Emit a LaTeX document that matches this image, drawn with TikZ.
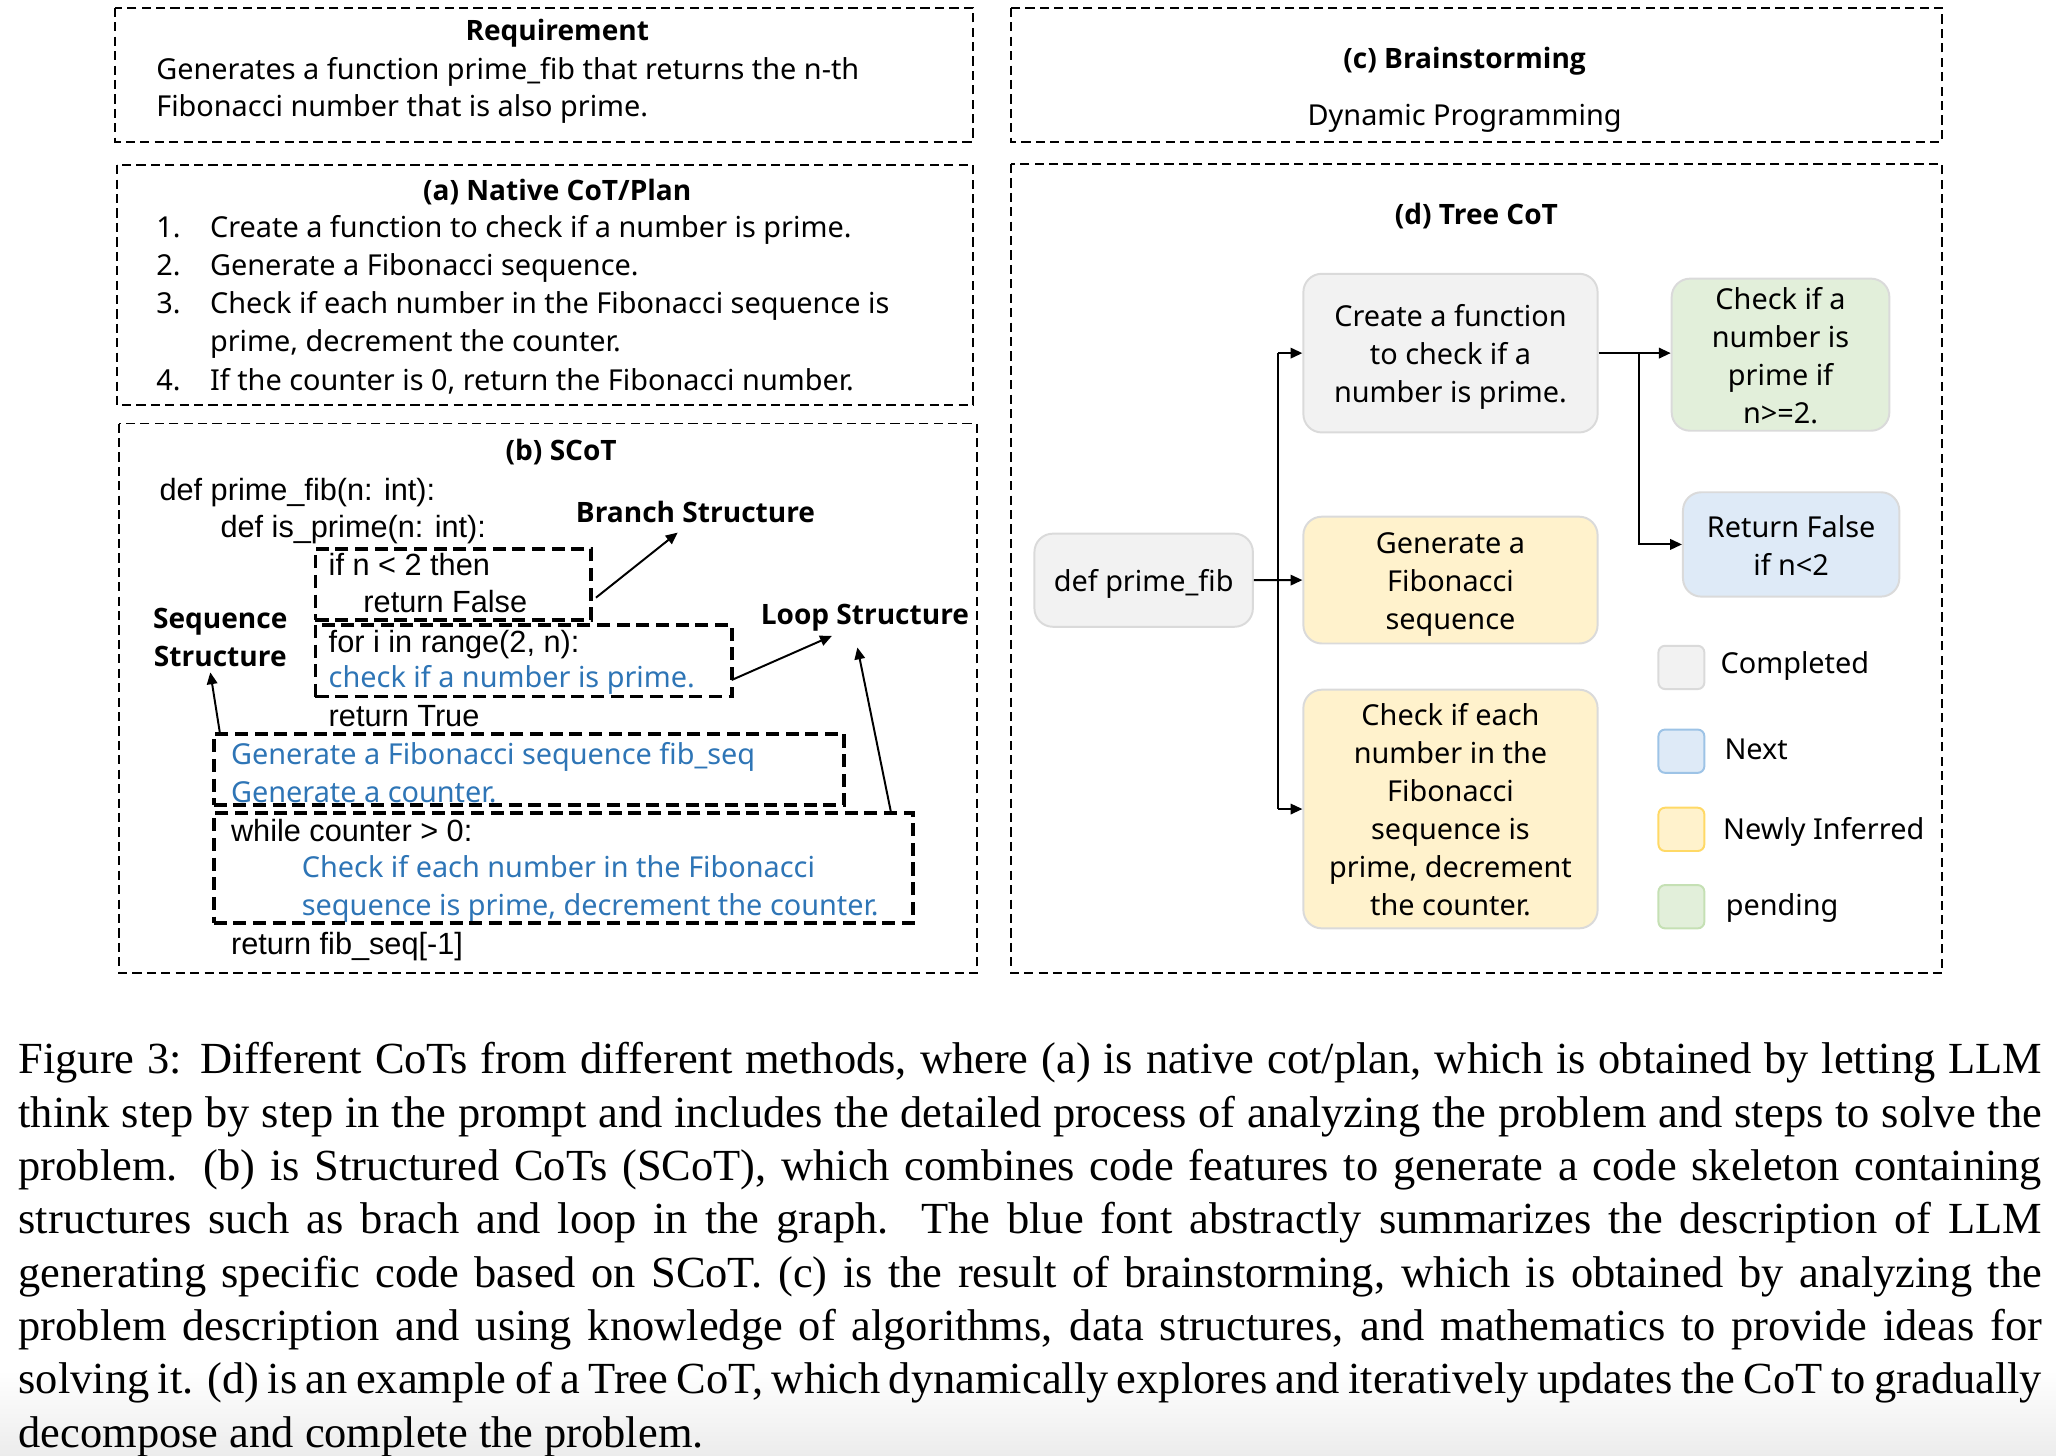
\documentclass[tikz,border=0pt]{standalone}
\usepackage{fontspec}
\setmainfont{Liberation Serif}
\newfontfamily\yhfont{Noto Sans}
\newfontfamily\yhbfont{Open Sans}
\newfontfamily\arfont{Liberation Sans}
\usetikzlibrary{arrows.meta}
\definecolor{codeblue}{RGB}{46,117,182}
\definecolor{gfill}{RGB}{242,242,242}
\definecolor{ndraw}{RGB}{218,218,218}
\definecolor{bfill}{RGB}{222,234,247}
\definecolor{yfill}{RGB}{255,242,204}
\definecolor{grfill}{RGB}{226,239,218}
\definecolor{lbdraw}{RGB}{157,195,230}
\definecolor{lydraw}{RGB}{255,217,102}
\definecolor{lgdraw}{RGB}{197,224,180}
\newcommand{\fyh}{\yhfont\fontsize{22}{29}\selectfont}
\newcommand{\fyhb}{\yhbfont\bfseries\fontsize{21.4}{29}\selectfont}
\newcommand{\fcode}{\arfont\fontsize{23.4}{29}\selectfont}
\newcommand{\fcap}{\fontsize{33.9}{40.7}\selectfont}
\newcommand{\tstrut}{\rule[-5.6pt]{0pt}{29pt}}
\begin{document}
\begin{tikzpicture}[x=1pt,y=-1pt,
  outerbox/.style={draw, line width=1.4pt, dash pattern=on 7pt off 4pt},
  tbox/.style={draw, line width=3pt, dash pattern=on 10pt off 5pt},
  txt/.style={anchor=base west, inner sep=0pt, font=\fyh},
  ttl/.style={anchor=base, inner sep=0pt, font=\fyhb},
  lbl/.style={anchor=base west, inner sep=0pt, font=\fyhb},
  code/.style={anchor=base west, inner sep=0pt, font=\fcode},
  btxt/.style={anchor=base west, inner sep=0pt, font=\fyh, text=codeblue},
  arr/.style={line width=1.5pt, -{Triangle[length=9pt,width=8pt]}},
  tnode/.style={rounded corners=14pt, line width=1.5pt, draw=ndraw, inner sep=0pt, align=center, font=\fyh},
  lsq/.style={rounded corners=5pt, line width=1.5pt, minimum width=35pt, minimum height=33pt, inner sep=0pt},
  capl/.style={anchor=base west, inner sep=0pt, font=\fcap}
]
\useasboundingbox (0,0) rectangle (1568,1110.4);
\shade[top color=white, bottom color={rgb,255:red,236;green,236;blue,236}] (0,1045) rectangle (1568,1110.4);

% ---------- Requirement ----------
\draw[outerbox] (88,6) rectangle (742,108);
\node[ttl] (reqt) at (425,31) {Requirement};
\node[txt] (req1) at (119,60.5) {Generates a function prime\_fib that returns the n-th};
\node[txt] (req2) at (119,88.5) {Fibonacci number that is also prime.};

% ---------- (a) ----------
\draw[outerbox] (89,126) rectangle (742,309);
\node[ttl] (at) at (425,153) {(a) Native CoT/Plan};
\node[txt] (an1) at (119,181.5) {1.};
\node[txt] (a1) at (160,181.5) {Create a function to check if a number is prime.};
\node[txt] (an2) at (119,210) {2.};
\node[txt] (a2) at (160,210) {Generate a Fibonacci sequence.};
\node[txt] (an3) at (119,239.2) {3.};
\node[txt] (a3) at (160,239.2) {Check if each number in the Fibonacci sequence is};
\node[txt] (a3b) at (160,268.3) {prime, decrement the counter.};
\node[txt] (an4) at (119,297.5) {4.};
\node[txt] (a4) at (160,297.5) {If the counter is 0, return the Fibonacci number.};

% ---------- (b) ----------
\draw[outerbox] (91,323) rectangle (745,742);
\node[ttl] (bt) at (428,351.5) {(b) SCoT};
\node[code] (b1) at (121.5,382) {def prime\_fib(n: int):};
\node[code] (b2) at (168,410) {def is\_prime(n: int):};
\node[code] (b3) at (250.5,439) {if n < 2 then};
\node[code] (b4) at (277,467) {return False};
\node[code] (b5) at (250.5,497.5) {for i in range(2, n):};
\node[btxt] (b6) at (250.5,524.5) {check if a number is prime.};
\node[code] (b7) at (250.5,554) {return True};
\node[btxt] (b8) at (176,583) {Generate a Fibonacci sequence fib\_seq};
\node[btxt] (b9) at (176,612.2) {Generate a counter.};
\node[code] (b10) at (176,642) {while counter > 0:};
\node[btxt] (b11) at (230,669.2) {Check if each number in the Fibonacci};
\node[btxt] (b12) at (230,698.4) {sequence is prime, decrement the counter.};
\node[code] (b13) at (176,728) {return fib\_seq[-1]};

\node[lbl] (brs) at (439,398.5) {Branch Structure};
\node[ttl] (seq1) at (168,479.5) {Sequence};
\node[ttl] (seq2) at (168,508.5) {Structure};
\node[lbl] (lps) at (580,476.5) {Loop Structure};

\node[tbox, inner sep=0pt, minimum width=210.4pt, minimum height=54.3pt] (brbox) at (345.8,445.65) {};
\node[tbox, inner sep=0pt, minimum width=317.4pt, minimum height=54.9pt] (lpbox) at (399.3,503.75) {};
\node[tbox, inner sep=0pt, minimum width=481.1pt, minimum height=54pt] (sqbox) at (403.45,587) {};
\node[tbox, inner sep=0pt, minimum width=533.7pt, minimum height=83.8pt] (whbox) at (429.75,662.1) {};

\coordinate (brs0) at (454.5,455.8);
\coordinate (brs1) at (516.8,406.2);
\coordinate (lp0) at (558,518.6);
\coordinate (lp1) at (634.4,485);
\coordinate (sq0) at (167.7,559);
\coordinate (sq1) at (160.4,512.8);
\coordinate (wh0) at (679.6,620);
\coordinate (wh1) at (653.9,493.8);
\draw[arr] (brs0) -- (brs1);
\draw[arr] (lp0) -- (lp1);
\draw[arr] (sq0) -- (sq1);
\draw[arr] (wh0) -- (wh1);

% ---------- (c) ----------
\draw[outerbox] (771,6) rectangle (1481,108);
\node[ttl] (ct) at (1117,52.5) {(c) Brainstorming};
\node[anchor=base, inner sep=0pt, font=\fyh] (cp) at (1117,95.5) {Dynamic Programming};

% ---------- (d) ----------
\draw[outerbox] (771,125) rectangle (1481,742);
\node[ttl] (dt) at (1126,171) {(d) Tree CoT};

\node[tnode, fill=gfill, minimum width=224.4pt, minimum height=121pt] (create) at (1106.2,269.3) {\tstrut Create a function\\to check if a\\number is prime.\tstrut};
\node[tnode, fill=grfill, minimum width=166pt, minimum height=111.6pt] (checka) at (1357.9,270.5) {\tstrut Check if a\\number is\\prime if\\n>=2.\tstrut};
\node[tnode, fill=bfill, minimum width=165pt, minimum height=79.6pt] (retf) at (1366,415.2) {\tstrut Return False\\if n<2\tstrut};
\node[tnode, fill=gfill, minimum width=166.6pt, minimum height=71pt] (def) at (872.2,442.5) {\tstrut def prime\_fib};
\node[tnode, fill=yfill, minimum width=224.4pt, minimum height=96.7pt] (gen) at (1106.2,442.4) {\tstrut Generate a\\Fibonacci\\sequence\tstrut};
\node[tnode, fill=yfill, minimum width=224.4pt, minimum height=182pt] (chk) at (1106.2,617) {\tstrut Check if each\\number in the\\Fibonacci\\sequence is\\prime, decrement\\the counter.\tstrut};

\coordinate (tl) at (974.5,269.3);
\coordinate (bl) at (974.5,617);
\coordinate (rb) at (1250.2,269.3);
\draw[line width=1.5pt] (tl) -- (bl);
\draw[arr] (tl) -- (create.west);
\draw[arr] (bl) -- (chk.west);
\draw[arr] (def.east) -- (gen.west);
\draw[arr] (create.east) -- (create.east -| checka.west);
\draw[arr] (rb) |- (retf.west);

% legend
\node[lsq, fill=gfill, draw=ndraw] (lg1) at (1282.3,509) {};
\node[lsq, fill=bfill, draw=lbdraw] (lg2) at (1282.3,572.9) {};
\node[lsq, fill=yfill, draw=lydraw] (lg3) at (1282.3,632.5) {};
\node[lsq, fill=grfill, draw=lgdraw] (lg4) at (1282.3,691.5) {};
\node[txt] (lt1) at (1312,513.5) {Completed};
\node[txt] (lt2) at (1315,579) {Next};
\node[txt] (lt3) at (1314,640) {Newly Inferred};
\node[txt] (lt4) at (1316,698) {pending};

% ---------- caption ----------
\node[capl] (c1) at (14,819) {\makebox[1543pt][s]{Figure 3: Different CoTs from different methods, where (a) is native cot/plan, which is obtained by letting LLM}};
\node[capl] (c2) at (14,859.65) {\makebox[1543pt][s]{think step by step in the prompt and includes the detailed process of analyzing the problem and steps to solve the}};
\node[capl] (c3) at (14,900.3) {\makebox[1543pt][s]{problem. (b) is Structured CoTs (SCoT), which combines code features to generate a code skeleton containing}};
\node[capl] (c4) at (14,940.95) {\makebox[1543pt][s]{structures such as brach and loop in the graph. The blue font abstractly summarizes the description of LLM}};
\node[capl] (c5) at (14,981.6) {\makebox[1543pt][s]{generating specific code based on SCoT. (c) is the result of brainstorming, which is obtained by analyzing the}};
\node[capl] (c6) at (14,1022.25) {\makebox[1543pt][s]{problem description and using knowledge of algorithms, data structures, and mathematics to provide ideas for}};
\node[capl] (c7) at (14,1062.9) {\makebox[1543pt][s]{solving it. (d) is an example of a Tree CoT, which dynamically explores and iteratively updates the CoT to gradually}};
\node[capl] (c8) at (14,1103.55) {decompose and complete the problem.};
\end{tikzpicture}
\end{document}
